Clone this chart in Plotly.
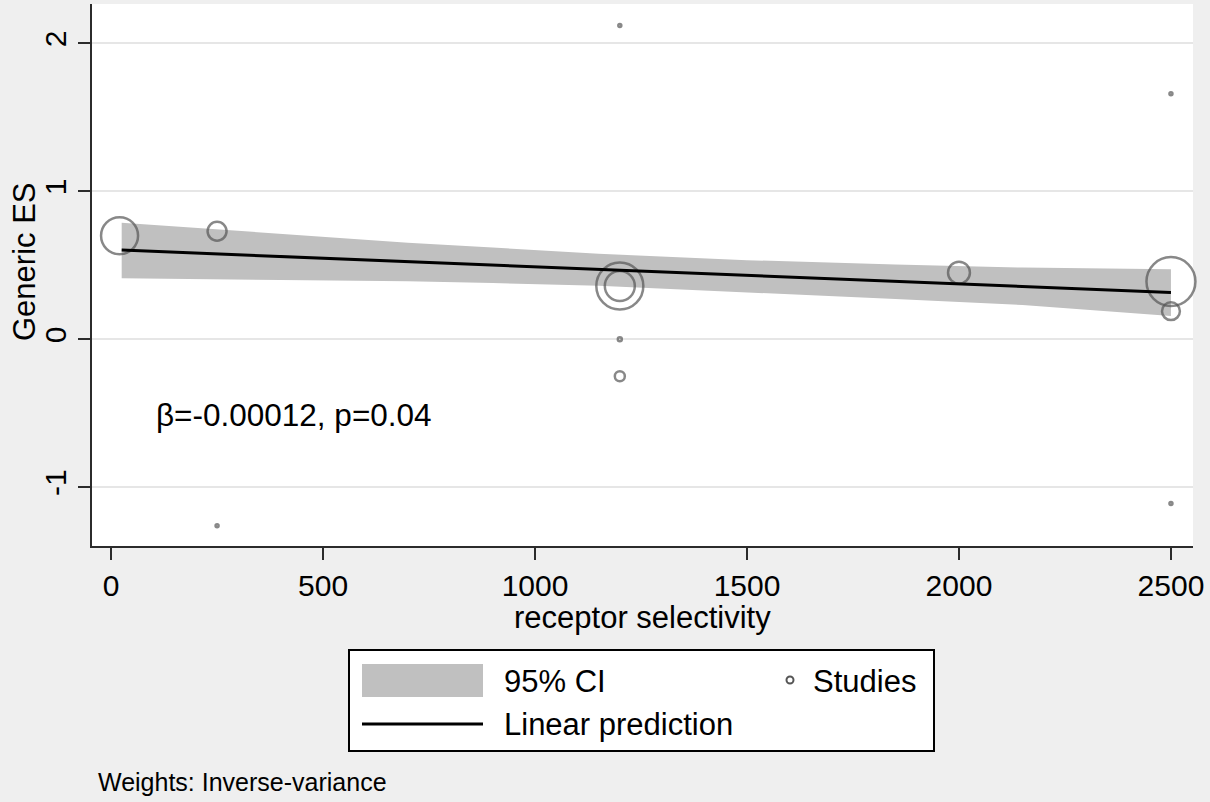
import numpy as np
import plotly.graph_objects as go

# Studies: receptor selectivity vs generic effect size, inverse-variance weights
study_x = [20, 250, 1200, 1200, 1200, 1200, 1200, 250, 2000, 2500, 2500, 2500, 2500]
study_es = [0.70, 0.73, 0.36, 0.36, 0.00, -0.25, 2.12, -1.26, 0.45, 0.39, 0.19, 1.66, -1.11]
study_w = [13.7, 3.6, 22.1, 9.0, 0.16, 1.0, 0.09, 0.09, 4.8, 24.0, 3.2, 0.09, 0.09]

# Fitted meta-regression line and its 95% confidence band
fit_x = [25, 2500]
fit_y = [0.603, 0.317]
ci_x = [25, 400, 700, 900, 1150, 1500, 1850, 2150, 2500]
ci_upper = [0.788, 0.711, 0.653, 0.620, 0.578, 0.535, 0.505, 0.485, 0.473]
ci_lower = [0.412, 0.400, 0.392, 0.380, 0.362, 0.318, 0.272, 0.232, 0.157]

x_ticks = [0, 500, 1000, 1500, 2000, 2500]
y_ticks = [-1, 0, 1, 2]
y_tick_text = ["-1", "0", "1", "2"]

FONT = "Liberation Sans, Arial, sans-serif"
BG = "#efefef"
AXIS = "#2b2b2b"
MARK = "#555555"
BAND = "#c0c0c0"

# plot-area pixel geometry used to place the hand-built legend
L, R, T, B = 92, 1193, 4, 546
def px(xp):
    return (xp - L) / (R - L)
def py(yp):
    return (B - yp) / (B - T)

fig = go.Figure()

fig.add_trace(go.Scatter(
    x=ci_x + ci_x[::-1], y=ci_upper + ci_lower[::-1],
    fill="toself", fillcolor=BAND, line=dict(width=0),
    mode="lines", hoverinfo="skip", showlegend=False))

sizes = [max(3, 10 * np.sqrt(w)) for w in study_w]
fig.add_trace(go.Scatter(
    x=study_x, y=study_es, mode="markers", cliponaxis=False,
    marker=dict(symbol="circle-open", size=sizes, color=MARK,
                line=dict(color=MARK, width=2.5)),
    showlegend=False))

fig.add_trace(go.Scatter(
    x=fit_x, y=fit_y, mode="lines", line=dict(color="black", width=3),
    showlegend=False))

shapes = [
    # legend frame
    dict(type="rect", xref="paper", yref="paper",
         x0=px(349), x1=px(934), y0=py(751), y1=py(650),
         fillcolor="white", line=dict(color="black", width=2)),
    # CI swatch
    dict(type="rect", xref="paper", yref="paper",
         x0=px(362), x1=px(483), y0=py(697), y1=py(664),
         fillcolor=BAND, line=dict(width=0)),
    # line swatch
    dict(type="line", xref="paper", yref="paper",
         x0=px(362), x1=px(483), y0=py(724), y1=py(724),
         line=dict(color="black", width=3)),
    # studies swatch
    dict(type="circle", xref="paper", yref="paper",
         x0=px(786.5), x1=px(793.5), y0=py(683.5), y1=py(676.5),
         line=dict(color=MARK, width=2)),
]

annotations = [
    dict(text="β=-0.00012, p=0.04", x=102, y=-0.51, xref="x", yref="y",
         xanchor="left", yanchor="middle", showarrow=False,
         font=dict(size=31.5, color="black", family=FONT)),
    dict(text="receptor selectivity", x=px(642), y=py(617), xref="paper", yref="paper",
         xanchor="center", yanchor="middle", showarrow=False,
         font=dict(size=31, color="black", family=FONT)),
    dict(text="Generic ES", x=px(24), y=py(262), xref="paper", yref="paper",
         xanchor="center", yanchor="middle", showarrow=False, textangle=-90,
         font=dict(size=31, color="black", family=FONT)),
    dict(text="95% CI", x=px(502), y=py(681), xref="paper", yref="paper",
         xanchor="left", yanchor="middle", showarrow=False,
         font=dict(size=31, color="black", family=FONT)),
    dict(text="Studies", x=px(811), y=py(681), xref="paper", yref="paper",
         xanchor="left", yanchor="middle", showarrow=False,
         font=dict(size=31, color="black", family=FONT)),
    dict(text="Linear prediction", x=px(502), y=py(724), xref="paper", yref="paper",
         xanchor="left", yanchor="middle", showarrow=False,
         font=dict(size=31, color="black", family=FONT)),
    dict(text="Weights: Inverse-variance", x=px(96), y=py(782), xref="paper", yref="paper",
         xanchor="left", yanchor="middle", showarrow=False,
         font=dict(size=25, color="black", family=FONT)),
]

fig.update_layout(
    width=1210, height=802,
    margin=dict(l=L, r=1210 - R, t=T, b=802 - B),
    paper_bgcolor=BG, plot_bgcolor="white",
    font=dict(family=FONT, size=30, color="black"),
    shapes=shapes, annotations=annotations,
    showlegend=False,
)
fig.update_xaxes(
    range=[-45, 2552], tickvals=x_ticks, ticks="outside", ticklen=12,
    tickwidth=2, tickcolor=AXIS, showline=True, linecolor=AXIS, linewidth=2,
    showgrid=False, zeroline=False, tickfont=dict(size=30, color="black"))
fig.update_yaxes(
    range=[-1.397, 2.266], tickvals=y_ticks, ticktext=y_tick_text,
    ticks="outside", ticklen=12,
    tickwidth=2, tickcolor=AXIS, showline=True, linecolor=AXIS, linewidth=2,
    showgrid=True, gridcolor="#e6e6e6", gridwidth=2, zeroline=False,
    tickangle=-90, tickfont=dict(size=30, color="black"))

fig.write_html("out.html")
